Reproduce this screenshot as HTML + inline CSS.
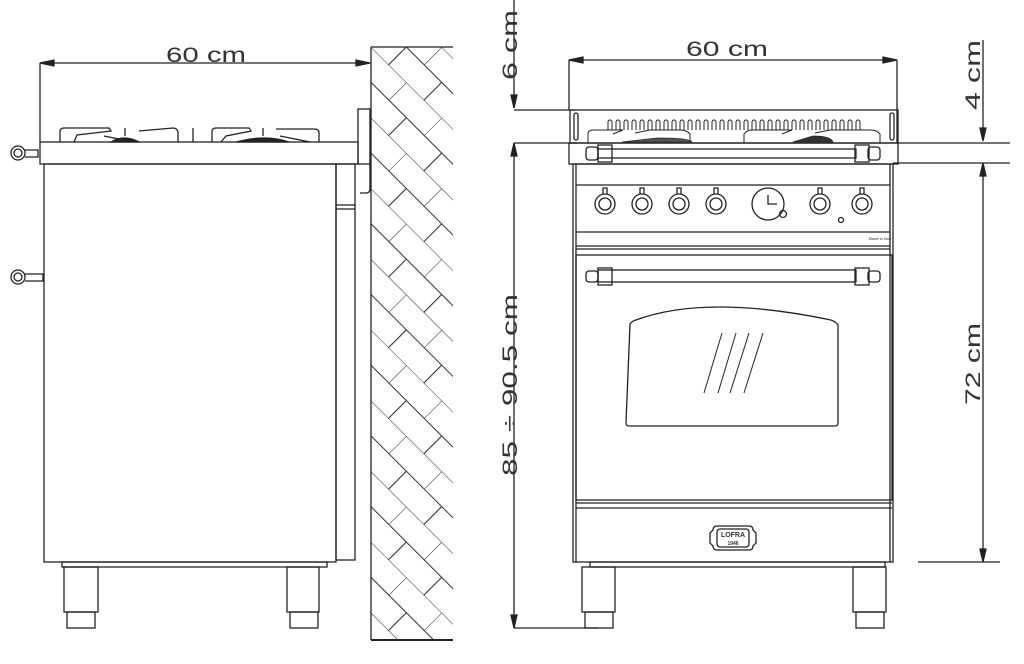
<!DOCTYPE html>
<html><head><meta charset="utf-8"><style>
html,body{margin:0;padding:0;background:#fff;}
svg{display:block;}
text{font-family:"Liberation Sans",sans-serif;fill:#333;}
</style></head><body>
<svg width="1024" height="664" viewBox="0 0 1024 664" xmlns="http://www.w3.org/2000/svg">
<defs>
<pattern id="brick" width="50" height="50" patternUnits="userSpaceOnUse" patternTransform="translate(371,47) rotate(45)">
<path d="M0 0H50M0 25H50M0 0V25M25 25V50" stroke="#333" stroke-width="1.1" fill="none"/>
</pattern>
</defs>
<g fill="none" stroke="#222" stroke-width="1.3">
<line x1="40" y1="63" x2="370" y2="63"/>
<path d="M40 63l14-3v6zM370 63l-14-3v6z" fill="#222"/>
<line x1="40" y1="63" x2="40" y2="142"/>
<rect x="371" y="47" width="82" height="593" fill="url(#brick)" stroke="none"/>
<line x1="371" y1="47" x2="371" y2="640"/>
<line x1="371" y1="47" x2="453" y2="47"/>
<line x1="371" y1="640" x2="453" y2="640" stroke-width="2"/>
<rect x="40" y="142" width="318" height="22"/>
<rect x="358" y="109" width="12" height="55"/>
<path d="M370 164v25q0 4-4 4h-6"/>
<path d="M60 142v-10q0-4 4-4h45l2 3-34 4-3 7M139 131l34-3q4 0 5 4v10M134 142l-30-6M212 142v-10q0-4 4-4h33l2 3-25 5-5 6M276 129l38 0q5 0 5 4v9M310 142l-30-6"/>
<path d="M111 142q13-8 28 0z" fill="#222"/>
<path d="M236 142q30-8 53 0z" fill="#222"/>
<line x1="125" y1="128" x2="125" y2="136"/><line x1="193" y1="128" x2="193" y2="142"/><line x1="263" y1="128" x2="263" y2="136"/>
<circle cx="18" cy="153" r="7"/><circle cx="18" cy="153" r="4"/><path d="M25 150h13v7H25"/>
<circle cx="18" cy="277" r="7"/><circle cx="18" cy="277" r="4"/><path d="M25 274h18v7H25"/>
<rect x="44" y="164" width="292" height="398"/>
<rect x="336" y="164" width="19" height="396"/><line x1="336" y1="205" x2="355" y2="205"/><line x1="336" y1="209" x2="355" y2="209"/>
<rect x="62" y="562" width="265" height="5"/>
<rect x="64" y="567" width="34" height="45"/><rect x="67" y="612" width="28" height="16"/>
<rect x="287" y="567" width="32" height="45"/><rect x="290" y="612" width="28" height="16"/>
<line x1="569" y1="60" x2="897" y2="60"/>
<path d="M569 60l14-3v6zM897 60l-14-3v6z" fill="#222"/>
<line x1="569" y1="60" x2="569" y2="110"/><line x1="897" y1="60" x2="897" y2="143"/>
<line x1="514" y1="0" x2="514" y2="108"/><path d="M514 108l-3-13h6z" fill="#222"/>
<line x1="514" y1="110" x2="575" y2="110"/>
<line x1="514" y1="143" x2="577" y2="143"/>
<line x1="514" y1="143" x2="514" y2="628"/>
<path d="M514 143l-3 13h6zM514 628l-3-13h6z" fill="#222"/>
<line x1="514" y1="628" x2="598" y2="628"/>
<line x1="983" y1="40" x2="983" y2="140"/><path d="M983 141l-3-13h6z" fill="#222"/>
<line x1="897" y1="143" x2="1010" y2="143"/>
<line x1="983" y1="163" x2="983" y2="562"/>
<path d="M983 163l-3 13h6zM983 562l-3-13h6z" fill="#222"/>
<line x1="893" y1="163" x2="1010" y2="163"/><line x1="918" y1="562" x2="1000" y2="562"/>
<rect x="570" y="110" width="328" height="33"/>
<rect x="574" y="113" width="4" height="27" rx="2"/><rect x="890" y="113" width="4" height="27" rx="2"/>
<g stroke-width="1">
<path d="M608 130v-8a2 2 0 014 0v8M616 130v-8a2 2 0 014 0v8M624 130v-8a2 2 0 014 0v8M632 130v-8a2 2 0 014 0v8M640 130v-8a2 2 0 014 0v8M648 130v-8a2 2 0 014 0v8M656 130v-8a2 2 0 014 0v8M664 130v-8a2 2 0 014 0v8M672 130v-8a2 2 0 014 0v8M680 130v-8a2 2 0 014 0v8M688 130v-8a2 2 0 014 0v8M696 130v-8a2 2 0 014 0v8M704 130v-8a2 2 0 014 0v8M712 130v-8a2 2 0 014 0v8M720 130v-8a2 2 0 014 0v8M728 130v-8a2 2 0 014 0v8M736 130v-8a2 2 0 014 0v8M744 130v-8a2 2 0 014 0v8M752 130v-8a2 2 0 014 0v8M760 130v-8a2 2 0 014 0v8M768 130v-8a2 2 0 014 0v8M776 130v-8a2 2 0 014 0v8M784 130v-8a2 2 0 014 0v8M792 130v-8a2 2 0 014 0v8M800 130v-8a2 2 0 014 0v8M808 130v-8a2 2 0 014 0v8M816 130v-8a2 2 0 014 0v8M824 130v-8a2 2 0 014 0v8M832 130v-8a2 2 0 014 0v8M840 130v-8a2 2 0 014 0v8M848 130v-8a2 2 0 014 0v8M856 130v-8a2 2 0 014 0v8"/>
<path d="M588 143v-9q0-4 5-4h30l-10 4M690 143v-9q-3-4-10-4h-30l-15 3M744 143v-9q3-4 8-4h40l-10 4M880 143v-9q-3-4-10-4h-40l-15 3"/>
</g>
<path d="M622 142h70q-2-4-35-4z" fill="#555" stroke-width="0.8"/>
<path d="M793 142h40q-2-6-20-6z" fill="#333" stroke-width="0.8"/>
<rect x="569" y="143" width="329" height="21"/>
<rect x="598" y="149" width="258" height="9"/>
<rect x="586" y="147" width="12" height="13" rx="3"/><rect x="598" y="145" width="14" height="17"/>
<rect x="868" y="147" width="12" height="13" rx="3"/><rect x="855" y="145" width="14" height="17"/>
<rect x="573" y="164" width="320" height="398"/>
<line x1="576" y1="164" x2="576" y2="562"/><line x1="890" y1="164" x2="890" y2="562"/>
<line x1="576" y1="185" x2="890" y2="185"/>
<line x1="576" y1="232" x2="890" y2="232"/>
<line x1="576" y1="246" x2="890" y2="246"/><line x1="576" y1="249" x2="890" y2="249"/>
<g>
<circle cx="605" cy="204" r="10"/><circle cx="605" cy="204" r="6"/><path d="M603 194v-6h4v6"/>
<circle cx="642" cy="204" r="10"/><circle cx="642" cy="204" r="6"/><path d="M640 194v-6h4v6"/>
<circle cx="679" cy="204" r="10"/><circle cx="679" cy="204" r="6"/><path d="M677 194v-6h4v6"/>
<circle cx="716" cy="204" r="10"/><circle cx="716" cy="204" r="6"/><path d="M714 194v-6h4v6"/>
<circle cx="820" cy="204" r="10"/><circle cx="820" cy="204" r="6"/><path d="M818 194v-6h4v6"/>
<circle cx="862" cy="204" r="10"/><circle cx="862" cy="204" r="6"/><path d="M860 194v-6h4v6"/>
<circle cx="768" cy="204" r="16"/><path d="M768 195v9h9"/><circle cx="783" cy="214" r="3.5"/>
<circle cx="841" cy="220" r="2.5"/>
</g>
<rect x="576" y="255" width="316" height="245"/>
<rect x="598" y="270" width="258" height="12"/>
<rect x="586" y="271" width="12" height="11" rx="3"/><rect x="598" y="268" width="14" height="17"/>
<rect x="868" y="271" width="12" height="11" rx="3"/><rect x="855" y="268" width="14" height="17"/>
<path d="M630 324q2-3 6-4q70-26 195-0q5 2 7 5v98q0 3-3 3h-206q-3 0-3-3z"/>
<path d="M704 393l18-60M718 393l18-60M730 393l19-60M744 393l19-60" stroke-width="1"/>
<line x1="576" y1="503" x2="892" y2="503"/>
<line x1="576" y1="508" x2="892" y2="508"/>
<path d="M713 530q0-4 4-4h32q4 0 4 4l3 3v10l-3 3q0 4-4 4h-32q-4 0-4-4l-3-3v-10z"/>
<rect x="717" y="529" width="32" height="18" rx="3"/>
<rect x="590" y="562" width="295" height="5"/>
<rect x="582" y="567" width="33" height="45"/><rect x="585" y="612" width="28" height="16"/>
<rect x="853" y="567" width="33" height="45"/><rect x="856" y="612" width="28" height="16"/>
</g>
<text x="733" y="537" font-size="7" text-anchor="middle" font-weight="bold">LOFRA</text>
<text x="733" y="545" font-size="5" text-anchor="middle" font-weight="bold">1946</text>
<text x="880" y="240" font-size="4" text-anchor="middle">Made in Italy</text>
<text x="166" y="62" font-size="21" textLength="80" lengthAdjust="spacingAndGlyphs">60 cm</text>
<text x="686" y="56" font-size="21" textLength="82" lengthAdjust="spacingAndGlyphs">60 cm</text>
<text transform="translate(517,80) rotate(-90)" font-size="21" textLength="70" lengthAdjust="spacingAndGlyphs">6 cm</text>
<text transform="translate(517,476) rotate(-90)" font-size="21" textLength="182" lengthAdjust="spacingAndGlyphs">85 ÷ 90.5 cm</text>
<text transform="translate(980,110) rotate(-90)" font-size="21" textLength="70" lengthAdjust="spacingAndGlyphs">4 cm</text>
<text transform="translate(980,405) rotate(-90)" font-size="21" textLength="82" lengthAdjust="spacingAndGlyphs">72 cm</text>
</svg>
</body></html>
